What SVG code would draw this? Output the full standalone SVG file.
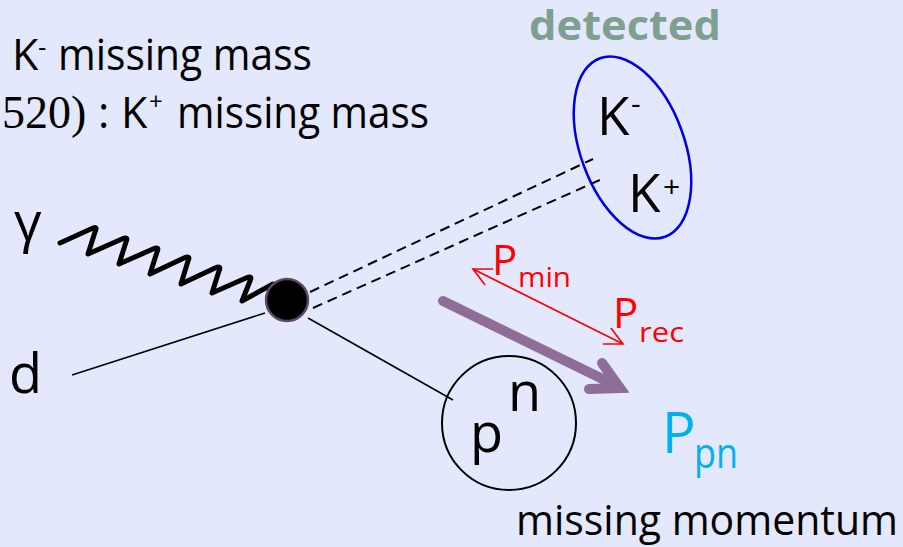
<svg xmlns="http://www.w3.org/2000/svg" width="903" height="547" viewBox="0 0 903 547">
<defs>
<style>
.t{font-family:"Open Sans","Noto Sans",sans-serif;fill:#000}
.red{fill:#FF0000}
.cyan{fill:#00B0F0}
</style>
<marker id="vh" markerUnits="userSpaceOnUse" markerWidth="30" markerHeight="30" viewBox="-25 -15 30 30" refX="0" refY="0" orient="auto-start-reverse">
<path d="M-18,-9 L0,0 L-18,9" fill="none" stroke="#FF0000" stroke-width="1.6"/>
</marker>
</defs>
<rect width="903" height="547" fill="#E4E8FC"/>

<g id="labels">
<text class="t" x="12" y="70" font-size="43">K</text>
<text class="t" x="38" y="56" font-size="26">-</text>
<text class="t" x="58" y="70" font-size="43" textLength="254" lengthAdjust="spacingAndGlyphs">missing mass</text>
<text x="2" y="128" font-family="Liberation Serif,serif" font-size="46">520)</text>
<text class="t" x="98" y="128" font-size="43">:</text>
<text class="t" x="121" y="128" font-size="43">K</text>
<text class="t" x="149" y="110" font-size="24">+</text>
<text class="t" x="177" y="128" font-size="43" textLength="252" lengthAdjust="spacingAndGlyphs">missing mass</text>
<text class="t" x="529" y="40" font-size="42" font-weight="bold" style="fill:#7FA08F" textLength="192" lengthAdjust="spacingAndGlyphs">detected</text>
<text class="t" x="516" y="535" font-size="42" textLength="382" lengthAdjust="spacingAndGlyphs">missing momentum</text>
</g>

<g id="gamma">
<text class="t" x="14" y="241" font-size="54">γ</text>
</g>
<g id="deuteron">
<text class="t" x="9" y="393" font-size="54">d</text>
</g>

<g id="connectors">
<path d="M60,243 L93,228 Q98,226 95,232 L88,254 L122,239 Q129,236 126,242 L119,264 L153,249 Q160,246 157,252 L150,274 L184,258 Q191,255 188,261 L181,284 L215,268 Q222,265 219,271 L212,293 L246,278 Q253,275 250,281 L242,301 L273,284" fill="none" stroke="#000" stroke-width="5" stroke-linecap="round" stroke-linejoin="round"/>
<line x1="72" y1="375" x2="265" y2="313" stroke="#000" stroke-width="1.6"/>
<line x1="308" y1="318" x2="453" y2="400" stroke="#000" stroke-width="1.6"/>
<line x1="310" y1="292" x2="593" y2="159" stroke="#000" stroke-width="2" stroke-dasharray="10,6"/>
<line x1="313" y1="308" x2="602" y2="179" stroke="#000" stroke-width="2" stroke-dasharray="10,6"/>
<line x1="473" y1="269" x2="623" y2="344" stroke="#FF0000" stroke-width="1.6" marker-start="url(#vh)" marker-end="url(#vh)"/>
<path d="M443,301 L619,387" fill="none" stroke="#8E6E98" stroke-width="10" stroke-linecap="round"/>
<path d="M602,363 L620,388 L589,389" fill="none" stroke="#8E6E98" stroke-width="10" stroke-linecap="round" stroke-linejoin="miter"/>
</g>

<g id="vertex">
<circle cx="287" cy="300" r="21" fill="#000" stroke="#5E4A60" stroke-width="2.5"/>
</g>

<g id="detected-kaons">
<ellipse cx="632.5" cy="147.5" rx="52" ry="95" transform="rotate(-20 632.5 147.5)" fill="none" stroke="#0000E6" stroke-width="2.5"/>
<text class="t" x="597" y="135" font-size="53">K</text>
<text class="t" x="631" y="114" font-size="30">-</text>
<text class="t" x="628" y="212" font-size="53">K</text>
<text class="t" x="663" y="197" font-size="30">+</text>
</g>

<g id="pn-pair">
<circle cx="509" cy="423" r="67" fill="none" stroke="#000" stroke-width="2"/>
<text class="t" x="508" y="411" font-size="54">n</text>
<text class="t" x="470" y="452" font-size="54">p</text>
</g>

<g id="p-min">
<text class="t red" x="492" y="275" font-size="42">P</text>
<text class="t red" x="518" y="287" font-size="28" textLength="53" lengthAdjust="spacingAndGlyphs">min</text>
</g>
<g id="p-rec">
<text class="t red" x="613" y="328" font-size="42">P</text>
<text class="t red" x="639" y="342" font-size="28" textLength="45" lengthAdjust="spacingAndGlyphs">rec</text>
</g>
<g id="p-pn">
<text class="t cyan" x="662" y="453" font-size="56">P</text>
<text class="t cyan" x="694" y="468" font-size="42" textLength="44" lengthAdjust="spacingAndGlyphs">pn</text>
</g>
</svg>
